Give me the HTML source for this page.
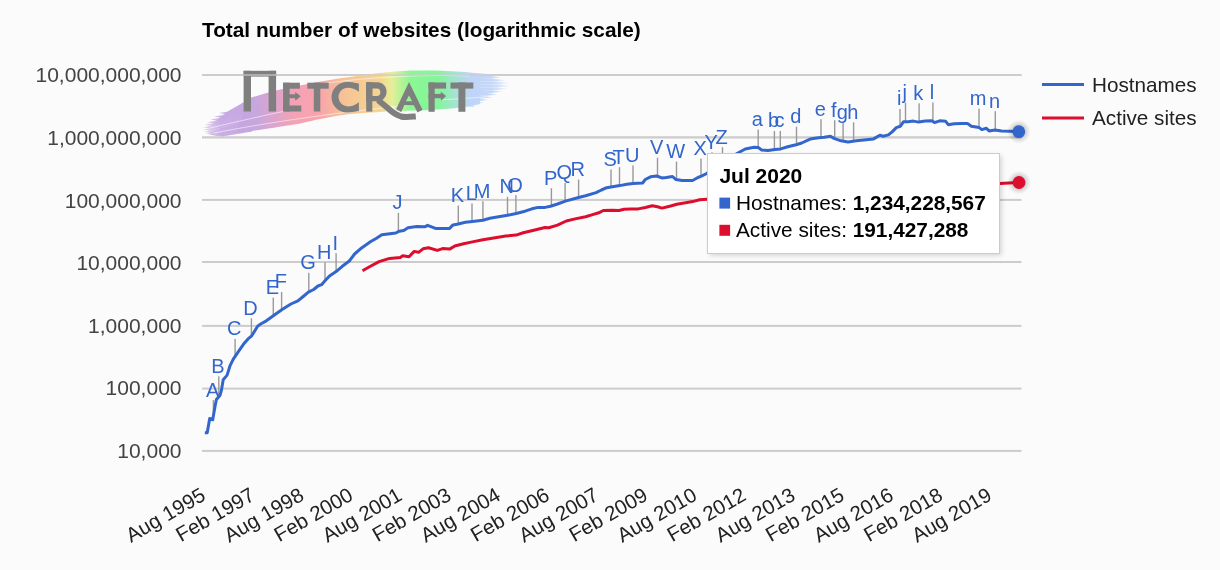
<!DOCTYPE html>
<html><head><meta charset="utf-8"><title>Total number of websites</title>
<style>html,body{margin:0;padding:0;background:#fbfbfb;width:1220px;height:570px;overflow:hidden;font-family:"Liberation Sans",sans-serif}</style>
</head><body>
<svg width="1220" height="570" viewBox="0 0 1220 570" style="position:absolute;left:0;top:0;will-change:transform">
<defs>
<linearGradient id="brush" x1="202" y1="0" x2="508" y2="0" gradientUnits="userSpaceOnUse">
<stop offset="0" stop-color="#c4a6e2"/>
<stop offset="0.18" stop-color="#c8a6de"/>
<stop offset="0.3" stop-color="#f4a2b6"/>
<stop offset="0.38" stop-color="#f8a3ac"/>
<stop offset="0.47" stop-color="#f6c494"/>
<stop offset="0.58" stop-color="#f5d490"/>
<stop offset="0.62" stop-color="#e6ee98"/>
<stop offset="0.68" stop-color="#8cf794"/>
<stop offset="0.77" stop-color="#84f59a"/>
<stop offset="0.83" stop-color="#a6e2d4"/>
<stop offset="0.88" stop-color="#bfd4f8"/>
<stop offset="1" stop-color="#c4d8f8"/>
</linearGradient>
<filter id="shadow" x="-10%" y="-20%" width="130%" height="150%"><feGaussianBlur stdDeviation="2.8"/></filter>
<linearGradient id="fadeR" x1="455" y1="0" x2="510" y2="0" gradientUnits="userSpaceOnUse"><stop offset="0" stop-color="#fbfbfb" stop-opacity="0"/><stop offset="0.6" stop-color="#fbfbfb" stop-opacity="0.85"/><stop offset="1" stop-color="#fbfbfb" stop-opacity="1"/></linearGradient>
<linearGradient id="fadeL" x1="200" y1="0" x2="245" y2="0" gradientUnits="userSpaceOnUse"><stop offset="0" stop-color="#fbfbfb" stop-opacity="1"/><stop offset="0.4" stop-color="#fbfbfb" stop-opacity="0.8"/><stop offset="1" stop-color="#fbfbfb" stop-opacity="0"/></linearGradient>
<linearGradient id="brushR" x1="470" y1="0" x2="510" y2="0" gradientUnits="userSpaceOnUse"><stop offset="0" stop-color="#bfd4f8"/><stop offset="0.55" stop-color="#c2d6f8" stop-opacity="0.95"/><stop offset="1" stop-color="#c8dafa" stop-opacity="0.25"/></linearGradient>
<linearGradient id="brushL" x1="200" y1="0" x2="252" y2="0" gradientUnits="userSpaceOnUse"><stop offset="0" stop-color="#c4a6e2" stop-opacity="0.3"/><stop offset="0.4" stop-color="#c4a6e2" stop-opacity="0.9"/><stop offset="1" stop-color="#c6a6e0"/></linearGradient>
<filter id="soft"><feGaussianBlur stdDeviation="0.6"/></filter>
<radialGradient id="halo"><stop offset="0.5" stop-color="#000" stop-opacity="0.2"/><stop offset="0.7" stop-color="#000" stop-opacity="0.1"/><stop offset="1" stop-color="#000" stop-opacity="0"/></radialGradient>
</defs>
<rect x="202" y="74.0" width="819.5" height="2" fill="#cccccc"/>
<rect x="202" y="136.4" width="819.5" height="2" fill="#cccccc"/>
<rect x="202" y="198.9" width="819.5" height="2" fill="#cccccc"/>
<rect x="202" y="261.0" width="819.5" height="2" fill="#cccccc"/>
<rect x="202" y="324.9" width="819.5" height="2" fill="#cccccc"/>
<rect x="202" y="387.6" width="819.5" height="2" fill="#cccccc"/>
<rect x="202" y="449.9" width="819.5" height="2" fill="#cccccc"/>
<g filter="url(#soft)">
<path d="M248,98.7 C253,97 259,95.3 265,93.5 C278,89.5 290,87.4 300,85.5 C320,81.5 335,79 350,77 C370,74 390,71.5 410,70.6 C430,70 450,70.7 465,72 C472,72.6 478,73.5 480,74 L480,104 C470,106.8 458,108 445,109 C430,110 420,110.5 400,111 C385,111.6 370,112.5 350,114 C330,116.5 315,120 300,123.5 C280,127 265,129 255,130.5 C248,131.5 242,132.5 236,133.3 Z" fill="url(#brush)"/>
<path d="M474,73.2 L482.0,73.5 L492.0,74.7 L482.0,75.9 L474,76.2 Z" fill="url(#brushR)"/>
<path d="M474,75.8 L491.0,76.1 L501.0,77.4 L491.0,78.7 L474,79.0 Z" fill="url(#brushR)"/>
<path d="M474,78.6 L496.0,78.9 L506.0,80.2 L496.0,81.5 L474,81.8 Z" fill="url(#brushR)"/>
<path d="M474,81.4 L499.0,81.7 L509.0,83.0 L499.0,84.3 L474,84.6 Z" fill="url(#brushR)"/>
<path d="M474,84.2 L500.0,84.5 L510.0,85.9 L500.0,87.3 L474,87.6 Z" fill="url(#brushR)"/>
<path d="M474,87.2 L497.0,87.5 L507.0,88.8 L497.0,90.1 L474,90.4 Z" fill="url(#brushR)"/>
<path d="M474,90.0 L492.0,90.3 L502.0,91.6 L492.0,92.9 L474,93.2 Z" fill="url(#brushR)"/>
<path d="M474,92.8 L487.0,93.1 L497.0,94.4 L487.0,95.7 L474,96.0 Z" fill="url(#brushR)"/>
<path d="M474,95.6 L482.0,95.9 L492.0,97.2 L482.0,98.5 L474,98.8 Z" fill="url(#brushR)"/>
<path d="M474,98.4 L478.0,98.7 L488.0,100.0 L478.0,101.3 L474,101.6 Z" fill="url(#brushR)"/>
<path d="M474,101.2 L474.0,101.5 L484.0,102.8 L474.0,104.1 L474,104.4 Z" fill="url(#brushR)"/>
<path d="M474,103.8 L466.0,104.1 L476.0,105.3 L466.0,106.5 L474,106.8 Z" fill="url(#brushR)"/>
<path d="M252,97.6 L227.0,111.8 L219.0,113.0 L227.0,114.2 L252,101.1 Z" fill="url(#brushL)"/>
<path d="M252,100.7 L222.0,115.3 L214.0,116.5 L222.0,117.7 L252,104.1 Z" fill="url(#brushL)"/>
<path d="M252,103.7 L218.0,118.3 L210.0,119.5 L218.0,120.7 L252,107.2 Z" fill="url(#brushL)"/>
<path d="M252,106.8 L214.5,121.1 L206.5,122.3 L214.5,123.5 L252,110.2 Z" fill="url(#brushL)"/>
<path d="M252,109.8 L212.0,123.6 L204.0,124.8 L212.0,126.0 L252,113.3 Z" fill="url(#brushL)"/>
<path d="M252,112.9 L210.5,126.0 L202.5,127.2 L210.5,128.4 L252,116.3 Z" fill="url(#brushL)"/>
<path d="M252,115.9 L210.5,128.3 L202.5,129.5 L210.5,130.7 L252,119.4 Z" fill="url(#brushL)"/>
<path d="M252,119.0 L211.5,130.5 L203.5,131.7 L211.5,132.9 L252,122.4 Z" fill="url(#brushL)"/>
<path d="M252,122.0 L213.0,132.2 L205.0,133.4 L213.0,134.6 L252,125.5 Z" fill="url(#brushL)"/>
<path d="M252,125.1 L216.0,133.4 L208.0,134.6 L216.0,135.8 L252,128.5 Z" fill="url(#brushL)"/>
<path d="M252,128.1 L222.0,134.0 L214.0,135.2 L222.0,136.4 L252,131.6 Z" fill="url(#brushL)"/>
</g>
<g fill="none" stroke="#ffffff" stroke-opacity="0.6" stroke-width="0.9">
<path d="M214,133 C260,124 330,113 420,104"/><path d="M210,128 C240,121 270,114 300,108"/><path d="M320,84 C360,78 420,74 470,76"/><path d="M440,100 C455,99 470,98 486,97"/>
</g>
<g fill="#7f7f7f">
<rect x="243.6" y="70.8" width="32.5" height="5.8"/><rect x="243.6" y="70.8" width="7.4" height="40.7"/><rect x="268.6" y="70.8" width="7.5" height="40.7"/>
<rect x="283.1" y="82.7" width="6.5" height="28.8"/><rect x="283.1" y="82.7" width="16.8" height="6"/><rect x="283.1" y="105.5" width="18.2" height="6"/><rect x="283.1" y="94.3" width="13" height="3.9"/><path d="M295.2,92 L300.8,96.2 L295.2,100.8 Z"/>
<rect x="307.3" y="82.7" width="21.4" height="6"/><rect x="313.8" y="82.7" width="6.5" height="28.8"/>
<rect x="366.2" y="82.2" width="6.1" height="29.4"/>
<rect x="428.5" y="82.5" width="6.2" height="29.3"/><rect x="428.5" y="82.5" width="17.6" height="6.1"/><rect x="428.5" y="93.9" width="13" height="4.3"/><path d="M440.8,91.7 L446.1,96.1 L440.8,100.9 Z"/>
<rect x="450.5" y="82.5" width="22.8" height="6.1"/><rect x="458.4" y="82.5" width="7" height="29.3"/>
<path d="M358.9,83.6 C354,82.3 350,81.9 347,81.9 C338.5,81.9 331.5,88.7 331.5,97.15 C331.5,105.6 338.5,112.4 347,112.4 C350.5,112.4 355,111.8 358.9,111 L358.9,102.2 C355.5,105 351.5,106.4 347.8,106.4 C342.7,106.4 338.5,102.2 338.5,97.1 C338.5,92 342.7,87.8 347.8,87.8 C351.5,87.8 355.5,89.2 358.9,91.7 Z"/>
<path fill-rule="evenodd" d="M366.2,82.2 H377.5 C382.5,82.2 386.6,86.3 386.6,91.7 C386.6,97 382.5,101.2 377.5,101.2 H366.2 Z M372.3,88.4 V96.1 H377 C379,96.1 380.4,94.4 380.4,92.25 C380.4,90.1 379,88.4 377,88.4 Z"/>
<path fill-rule="evenodd" d="M409,81.9 L422.5,109.7 L417.5,112.4 L413.8,105.2 L404.3,105.2 L401.3,112 L395.5,110.4 Z M409,95.4 L412.1,101.2 L405.9,101.2 Z"/>
</g>
<path d="M378,100 L388.5,108.8 C392,112 396,115 401,116.5 C405,117.6 411,116.8 415.8,116.4" fill="none" stroke="#fbfbfb" stroke-opacity="0.8" stroke-width="9" stroke-dasharray="0 14 12 100"/>
<path d="M378,100 L388.5,108.8 C392,112 396,115 401,116.5 C405,117.6 411,116.8 415.8,116.4" fill="none" stroke="#7f7f7f" stroke-width="6"/>
<rect x="202" y="74.0" width="819.5" height="2" fill="#cccccc" opacity="0.6"/>
<rect x="202" y="136.4" width="819.5" height="2" fill="#cccccc" opacity="0.6"/>
<text x="202" y="37" font-family="Liberation Sans" font-weight="bold" font-size="20.8" fill="#000">Total number of websites (logarithmic scale)</text>
<text x="181.5" y="82.2" text-anchor="end" font-family="Liberation Sans" font-size="21" fill="#444">10,000,000,000</text>
<text x="181.5" y="144.8" text-anchor="end" font-family="Liberation Sans" font-size="21" fill="#444">1,000,000,000</text>
<text x="181.5" y="207.5" text-anchor="end" font-family="Liberation Sans" font-size="21" fill="#444">100,000,000</text>
<text x="181.5" y="270.1" text-anchor="end" font-family="Liberation Sans" font-size="21" fill="#444">10,000,000</text>
<text x="181.5" y="332.8" text-anchor="end" font-family="Liberation Sans" font-size="21" fill="#444">1,000,000</text>
<text x="181.5" y="395.4" text-anchor="end" font-family="Liberation Sans" font-size="21" fill="#444">100,000</text>
<text x="181.5" y="458.1" text-anchor="end" font-family="Liberation Sans" font-size="21" fill="#444">10,000</text>
<text x="207.0" y="499.0" text-anchor="end" transform="rotate(-30 207.0 499.0)" font-family="Liberation Sans" font-size="20.5" fill="#222">Aug 1995</text>
<text x="256.1" y="499.0" text-anchor="end" transform="rotate(-30 256.1 499.0)" font-family="Liberation Sans" font-size="20.5" fill="#222">Feb 1997</text>
<text x="305.3" y="499.0" text-anchor="end" transform="rotate(-30 305.3 499.0)" font-family="Liberation Sans" font-size="20.5" fill="#222">Aug 1998</text>
<text x="354.4" y="499.0" text-anchor="end" transform="rotate(-30 354.4 499.0)" font-family="Liberation Sans" font-size="20.5" fill="#222">Feb 2000</text>
<text x="403.5" y="499.0" text-anchor="end" transform="rotate(-30 403.5 499.0)" font-family="Liberation Sans" font-size="20.5" fill="#222">Aug 2001</text>
<text x="452.6" y="499.0" text-anchor="end" transform="rotate(-30 452.6 499.0)" font-family="Liberation Sans" font-size="20.5" fill="#222">Feb 2003</text>
<text x="501.8" y="499.0" text-anchor="end" transform="rotate(-30 501.8 499.0)" font-family="Liberation Sans" font-size="20.5" fill="#222">Aug 2004</text>
<text x="550.9" y="499.0" text-anchor="end" transform="rotate(-30 550.9 499.0)" font-family="Liberation Sans" font-size="20.5" fill="#222">Feb 2006</text>
<text x="600.0" y="499.0" text-anchor="end" transform="rotate(-30 600.0 499.0)" font-family="Liberation Sans" font-size="20.5" fill="#222">Aug 2007</text>
<text x="649.2" y="499.0" text-anchor="end" transform="rotate(-30 649.2 499.0)" font-family="Liberation Sans" font-size="20.5" fill="#222">Feb 2009</text>
<text x="698.3" y="499.0" text-anchor="end" transform="rotate(-30 698.3 499.0)" font-family="Liberation Sans" font-size="20.5" fill="#222">Aug 2010</text>
<text x="747.4" y="499.0" text-anchor="end" transform="rotate(-30 747.4 499.0)" font-family="Liberation Sans" font-size="20.5" fill="#222">Feb 2012</text>
<text x="796.6" y="499.0" text-anchor="end" transform="rotate(-30 796.6 499.0)" font-family="Liberation Sans" font-size="20.5" fill="#222">Aug 2013</text>
<text x="845.7" y="499.0" text-anchor="end" transform="rotate(-30 845.7 499.0)" font-family="Liberation Sans" font-size="20.5" fill="#222">Feb 2015</text>
<text x="894.8" y="499.0" text-anchor="end" transform="rotate(-30 894.8 499.0)" font-family="Liberation Sans" font-size="20.5" fill="#222">Aug 2016</text>
<text x="944.0" y="499.0" text-anchor="end" transform="rotate(-30 944.0 499.0)" font-family="Liberation Sans" font-size="20.5" fill="#222">Feb 2018</text>
<text x="993.1" y="499.0" text-anchor="end" transform="rotate(-30 993.1 499.0)" font-family="Liberation Sans" font-size="20.5" fill="#222">Aug 2019</text>
<path d="M362.5,270.7 L370.4,266.3 L379.1,261.6 L389.6,258.4 L400.2,257.5 L402.8,255.8 L409.0,256.7 L414.2,251.4 L418.6,252.3 L423.0,248.8 L428.5,247.7 L437.3,250.4 L442.5,248.6 L449.6,249.1 L454.8,246.0 L463.6,243.7 L472.4,241.9 L482.9,239.8 L495.2,237.7 L505.7,236.0 L516.2,235.1 L523.2,232.8 L533.8,230.2 L545.0,227.5 L548.8,227.7 L557.5,225.1 L566.3,221.0 L575.1,218.9 L585.6,216.8 L592.6,214.6 L598.8,212.8 L603.2,210.5 L611.9,210.2 L619.0,210.5 L624.2,209.3 L631.2,208.9 L638.2,208.9 L645.3,207.5 L652.3,205.8 L657.5,206.7 L661.9,208.1 L670.7,206.0 L676.8,204.2 L685.6,202.8 L692.6,201.6 L699.6,199.8 L706.7,199.3 L850.0,191.0 L1000.0,183.5 L1019.0,182.5" fill="none" stroke="#dd0d2e" stroke-width="3" stroke-linejoin="round"/>
<rect x="212.7" y="400.1" width="1.4" height="15.7" fill="#999"/>
<rect x="218.1" y="376.3" width="1.4" height="20.4" fill="#999"/>
<rect x="234.4" y="338.9" width="1.4" height="17.5" fill="#999"/>
<rect x="250.7" y="318.3" width="1.4" height="17.8" fill="#999"/>
<rect x="272.6" y="297.7" width="1.4" height="18.1" fill="#999"/>
<rect x="280.9" y="292.0" width="1.4" height="18.0" fill="#999"/>
<rect x="308.1" y="272.8" width="1.4" height="19.1" fill="#999"/>
<rect x="324.3" y="262.3" width="1.4" height="18.4" fill="#999"/>
<rect x="335.4" y="253.2" width="1.4" height="18.4" fill="#999"/>
<rect x="397.7" y="212.8" width="1.4" height="18.9" fill="#999"/>
<rect x="457.6" y="205.6" width="1.4" height="18.4" fill="#999"/>
<rect x="471.3" y="203.5" width="1.4" height="18.0" fill="#999"/>
<rect x="482.2" y="201.2" width="1.4" height="19.0" fill="#999"/>
<rect x="506.8" y="196.8" width="1.4" height="18.5" fill="#999"/>
<rect x="515.2" y="195.1" width="1.4" height="18.5" fill="#999"/>
<rect x="550.7" y="188.2" width="1.4" height="17.8" fill="#999"/>
<rect x="564.4" y="183.0" width="1.4" height="18.2" fill="#999"/>
<rect x="577.9" y="179.5" width="1.4" height="18.0" fill="#999"/>
<rect x="610.3" y="169.5" width="1.4" height="17.5" fill="#999"/>
<rect x="618.8" y="167.2" width="1.4" height="18.4" fill="#999"/>
<rect x="632.3" y="165.4" width="1.4" height="18.1" fill="#999"/>
<rect x="656.8" y="157.7" width="1.4" height="18.6" fill="#999"/>
<rect x="675.8" y="161.6" width="1.4" height="18.1" fill="#999"/>
<rect x="700.3" y="158.6" width="1.4" height="17.7" fill="#999"/>
<rect x="711.3" y="152.3" width="1.4" height="17.6" fill="#999"/>
<rect x="721.8" y="147.2" width="1.4" height="15.5" fill="#999"/>
<rect x="757.5" y="129.6" width="1.4" height="17.9" fill="#999"/>
<rect x="773.7" y="131.0" width="1.4" height="18.7" fill="#999"/>
<rect x="779.6" y="131.0" width="1.4" height="17.9" fill="#999"/>
<rect x="795.8" y="126.7" width="1.4" height="17.9" fill="#999"/>
<rect x="820.3" y="119.2" width="1.4" height="18.3" fill="#999"/>
<rect x="834.0" y="120.2" width="1.4" height="18.4" fill="#999"/>
<rect x="842.4" y="123.0" width="1.4" height="18.1" fill="#999"/>
<rect x="852.9" y="122.3" width="1.4" height="18.9" fill="#999"/>
<rect x="899.3" y="109.0" width="1.4" height="17.4" fill="#999"/>
<rect x="904.8" y="102.6" width="1.4" height="19.1" fill="#999"/>
<rect x="918.4" y="103.3" width="1.4" height="18.7" fill="#999"/>
<rect x="932.2" y="102.4" width="1.4" height="19.1" fill="#999"/>
<rect x="978.3" y="108.6" width="1.4" height="19.0" fill="#999"/>
<rect x="994.6" y="111.2" width="1.4" height="18.8" fill="#999"/>
<path d="M204.8,432.7 L207.2,432.7 L209.7,418.5 L212.7,419.8 L215.2,405.6 L216.4,399.5 L220.1,395.2 L221.3,390.9 L223.2,379.8 L226.3,376.1 L227.1,375.1 L230.2,365.3 L233.3,359.1 L238.2,351.8 L244.3,343.2 L248.0,338.9 L251.7,335.8 L257.8,326.0 L261.5,323.5 L265.0,321.7 L273.3,315.8 L282.1,309.6 L290.9,304.0 L297.9,300.9 L303.2,296.5 L308.4,292.1 L313.7,289.5 L318.0,286.0 L321.6,284.7 L325.0,280.7 L329.5,276.0 L336.1,271.6 L342.3,266.3 L349.3,261.0 L354.6,254.0 L361.6,247.9 L370.4,241.8 L376.5,238.2 L381.8,234.7 L387.9,233.9 L395.8,233.0 L399.3,231.2 L403.7,230.4 L408.0,227.7 L416.8,226.5 L424.7,226.8 L427.6,225.3 L435.5,228.4 L442.5,228.4 L449.6,228.4 L453.0,224.9 L458.3,224.0 L465.4,222.3 L472.4,221.4 L482.9,220.2 L489.9,218.2 L498.7,216.7 L507.5,215.3 L516.2,213.5 L525.0,211.2 L532.0,208.8 L538.2,207.4 L545.0,207.4 L550.5,206.3 L557.5,204.0 L565.4,201.1 L578.6,197.5 L585.6,195.8 L596.1,192.6 L601.4,190.0 L606.7,187.7 L611.0,187.0 L619.8,185.6 L626.8,184.2 L633.0,183.5 L642.6,183.0 L645.3,179.5 L650.5,176.8 L656.7,176.0 L661.9,177.9 L666.3,177.5 L672.5,176.5 L676.0,179.6 L682.1,180.5 L692.6,180.5 L697.9,177.5 L701.4,176.1 L706.7,173.5 L722.0,163.0 L737.4,153.3 L745.3,149.0 L754.0,147.2 L758.2,147.5 L761.7,150.0 L768.0,150.6 L775.0,149.6 L780.7,148.9 L787.7,146.8 L796.1,144.7 L801.7,143.0 L810.1,139.1 L818.5,137.7 L824.2,137.3 L830.5,136.3 L834.0,138.4 L841.0,140.8 L848.0,141.9 L856.4,140.8 L866.2,139.8 L873.2,139.1 L875.3,137.9 L879.9,135.3 L883.2,136.2 L888.4,134.9 L892.4,131.6 L896.3,127.6 L900.3,126.3 L903.6,121.7 L908.2,121.7 L913.4,121.1 L918.7,122.1 L925.3,121.1 L931.8,120.8 L934.5,122.6 L939.7,120.8 L945.7,121.3 L948.3,124.7 L954.2,123.7 L962.1,123.4 L967.4,123.4 L971.3,126.3 L979.2,127.6 L981.8,129.6 L986.4,128.3 L989.1,130.9 L995.0,130.0 L1001.6,130.9 L1018.7,131.6" fill="none" stroke="#3366cc" stroke-width="3" stroke-linejoin="round"/>
<text x="212.6" y="396.5" text-anchor="middle" font-family="Liberation Sans" font-size="20" fill="#3366cc">A</text>
<text x="218.0" y="372.7" text-anchor="middle" font-family="Liberation Sans" font-size="20" fill="#3366cc">B</text>
<text x="234.3" y="335.3" text-anchor="middle" font-family="Liberation Sans" font-size="20" fill="#3366cc">C</text>
<text x="250.6" y="314.7" text-anchor="middle" font-family="Liberation Sans" font-size="20" fill="#3366cc">D</text>
<text x="272.5" y="294.1" text-anchor="middle" font-family="Liberation Sans" font-size="20" fill="#3366cc">E</text>
<text x="280.8" y="288.4" text-anchor="middle" font-family="Liberation Sans" font-size="20" fill="#3366cc">F</text>
<text x="308.0" y="269.2" text-anchor="middle" font-family="Liberation Sans" font-size="20" fill="#3366cc">G</text>
<text x="324.2" y="258.7" text-anchor="middle" font-family="Liberation Sans" font-size="20" fill="#3366cc">H</text>
<text x="335.3" y="249.6" text-anchor="middle" font-family="Liberation Sans" font-size="20" fill="#3366cc">I</text>
<text x="397.6" y="209.2" text-anchor="middle" font-family="Liberation Sans" font-size="20" fill="#3366cc">J</text>
<text x="457.5" y="202.0" text-anchor="middle" font-family="Liberation Sans" font-size="20" fill="#3366cc">K</text>
<text x="471.2" y="199.9" text-anchor="middle" font-family="Liberation Sans" font-size="20" fill="#3366cc">L</text>
<text x="482.1" y="197.6" text-anchor="middle" font-family="Liberation Sans" font-size="20" fill="#3366cc">M</text>
<text x="506.7" y="193.2" text-anchor="middle" font-family="Liberation Sans" font-size="20" fill="#3366cc">N</text>
<text x="515.1" y="191.5" text-anchor="middle" font-family="Liberation Sans" font-size="20" fill="#3366cc">O</text>
<text x="550.6" y="184.6" text-anchor="middle" font-family="Liberation Sans" font-size="20" fill="#3366cc">P</text>
<text x="564.3" y="179.4" text-anchor="middle" font-family="Liberation Sans" font-size="20" fill="#3366cc">Q</text>
<text x="577.8" y="175.9" text-anchor="middle" font-family="Liberation Sans" font-size="20" fill="#3366cc">R</text>
<text x="610.2" y="165.9" text-anchor="middle" font-family="Liberation Sans" font-size="20" fill="#3366cc">S</text>
<text x="618.7" y="163.6" text-anchor="middle" font-family="Liberation Sans" font-size="20" fill="#3366cc">T</text>
<text x="632.2" y="161.8" text-anchor="middle" font-family="Liberation Sans" font-size="20" fill="#3366cc">U</text>
<text x="656.7" y="154.1" text-anchor="middle" font-family="Liberation Sans" font-size="20" fill="#3366cc">V</text>
<text x="675.7" y="158.0" text-anchor="middle" font-family="Liberation Sans" font-size="20" fill="#3366cc">W</text>
<text x="700.2" y="155.0" text-anchor="middle" font-family="Liberation Sans" font-size="20" fill="#3366cc">X</text>
<text x="711.2" y="148.7" text-anchor="middle" font-family="Liberation Sans" font-size="20" fill="#3366cc">Y</text>
<text x="721.7" y="143.6" text-anchor="middle" font-family="Liberation Sans" font-size="20" fill="#3366cc">Z</text>
<text x="757.4" y="126.0" text-anchor="middle" font-family="Liberation Sans" font-size="20" fill="#3366cc">a</text>
<text x="773.6" y="127.4" text-anchor="middle" font-family="Liberation Sans" font-size="20" fill="#3366cc">b</text>
<text x="779.5" y="127.4" text-anchor="middle" font-family="Liberation Sans" font-size="20" fill="#3366cc">c</text>
<text x="795.7" y="123.1" text-anchor="middle" font-family="Liberation Sans" font-size="20" fill="#3366cc">d</text>
<text x="820.2" y="115.6" text-anchor="middle" font-family="Liberation Sans" font-size="20" fill="#3366cc">e</text>
<text x="833.9" y="116.6" text-anchor="middle" font-family="Liberation Sans" font-size="20" fill="#3366cc">f</text>
<text x="842.3" y="119.4" text-anchor="middle" font-family="Liberation Sans" font-size="20" fill="#3366cc">g</text>
<text x="852.8" y="118.7" text-anchor="middle" font-family="Liberation Sans" font-size="20" fill="#3366cc">h</text>
<text x="899.2" y="105.4" text-anchor="middle" font-family="Liberation Sans" font-size="20" fill="#3366cc">i</text>
<text x="904.7" y="99.0" text-anchor="middle" font-family="Liberation Sans" font-size="20" fill="#3366cc">j</text>
<text x="918.3" y="99.7" text-anchor="middle" font-family="Liberation Sans" font-size="20" fill="#3366cc">k</text>
<text x="932.1" y="98.8" text-anchor="middle" font-family="Liberation Sans" font-size="20" fill="#3366cc">l</text>
<text x="978.2" y="105.0" text-anchor="middle" font-family="Liberation Sans" font-size="20" fill="#3366cc">m</text>
<text x="994.5" y="107.6" text-anchor="middle" font-family="Liberation Sans" font-size="20" fill="#3366cc">n</text>
<circle cx="1018.8" cy="131.7" r="12" fill="url(#halo)"/><circle cx="1018.8" cy="131.7" r="6.4" fill="#3366cc"/>
<circle cx="1019" cy="182.5" r="12" fill="url(#halo)"/><circle cx="1019" cy="182.5" r="6.4" fill="#dd0d2e"/>
<rect x="1042" y="83" width="42" height="3" fill="#3366cc"/><rect x="1042" y="116.5" width="42" height="3" fill="#dd0d2e"/>
<text x="1092" y="91.8" font-family="Liberation Sans" font-size="20.7" fill="#222">Hostnames</text>
<text x="1092" y="124.8" font-family="Liberation Sans" font-size="20.7" fill="#222">Active sites</text>
<rect x="709.5" y="155.5" width="292" height="100" fill="#000" opacity="0.16" filter="url(#shadow)"/>
<rect x="707.5" y="153.5" width="292" height="100" fill="#fff" stroke="#cccccc" stroke-width="1"/>
<text x="719.4" y="182.9" font-family="Liberation Sans" font-weight="bold" font-size="21" fill="#000">Jul 2020</text>
<rect x="719.4" y="197.6" width="10.7" height="11" fill="#3366cc"/><rect x="719.4" y="224.8" width="10.7" height="11" fill="#dd0d2e"/>
<text x="736" y="209.5" font-family="Liberation Sans" font-size="20.8" fill="#000">Hostnames: <tspan font-weight="bold">1,234,228,567</tspan></text>
<text x="736" y="236.7" font-family="Liberation Sans" font-size="20.8" fill="#000">Active sites: <tspan font-weight="bold">191,427,288</tspan></text>
</svg>
</body></html>
